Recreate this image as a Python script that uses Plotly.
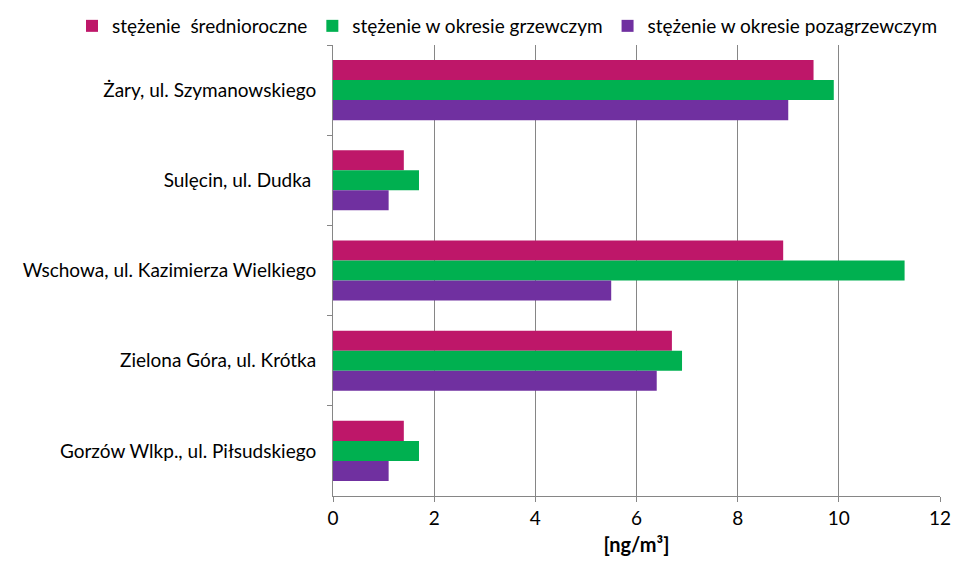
import plotly.graph_objects as go

categories = ["Żary, ul. Szymanowskiego", "Sulęcin, ul. Dudka ", "Wschowa, ul. Kazimierza Wielkiego",
              "Zielona Góra, ul. Krótka", "Gorzów Wlkp., ul. Piłsudskiego"]
series_names = ["stężenie  średnioroczne", "stężenie w okresie grzewczym", "stężenie w okresie pozagrzewczym"]
annual = [9.5, 1.4, 8.9, 6.7, 1.4]
heating = [9.9, 1.7, 11.3, 6.9, 1.7]
non_heating = [9.0, 1.1, 5.5, 6.4, 1.1]
colors = ["#BE1769", "#00B050", "#7030A0"]
x_title = "[ng/m³]"

FONT = "Lato, Open Sans, sans-serif"
FS = 19

PLOT_L, PLOT_W = 325, 607

fig = go.Figure()
for name, vals, col in zip(series_names, [annual, heating, non_heating], colors):
    fig.add_trace(go.Bar(y=categories, x=vals, name=name, orientation="h",
                         marker=dict(color=col, line=dict(width=0))))

fig.update_layout(
    width=948, height=554,
    margin=dict(l=PLOT_L, r=16, t=37, b=66, autoexpand=False),
    barmode="group", bargap=1/3, bargroupgap=0,
    plot_bgcolor="white", paper_bgcolor="white",
    font=dict(family=FONT, size=FS, color="#000000"),
    legend=dict(orientation="h", x=(64 - PLOT_L) / PLOT_W, xref="paper", xanchor="left",
                y=1.0, yref="paper", yanchor="bottom",
                font=dict(size=FS), itemwidth=30, tracegroupgap=0,
                traceorder="normal", bgcolor="rgba(0,0,0,0)"),
    xaxis=dict(range=[0, 12], dtick=2, showgrid=True, gridcolor="#868686", gridwidth=1,
               showline=True, linecolor="#868686", ticks="outside", ticklen=5,
               tickcolor="#868686", zeroline=False, automargin=False,
               title=dict(text="<b>" + x_title + "</b>", font=dict(size=20), standoff=10),
               tickfont=dict(size=FS)),
    yaxis=dict(autorange="reversed", showline=True, linecolor="#868686", ticks="outside",
               tickson="boundaries", ticklen=5, tickcolor="#868686", automargin=False,
               tickfont=dict(size=FS), ticklabelstandoff=12),
)

fig.write_html("out.html")
